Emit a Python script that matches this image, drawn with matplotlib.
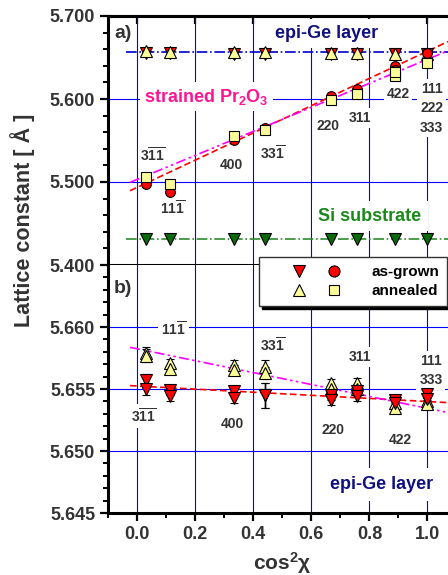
import numpy as np
import matplotlib
matplotlib.use("Agg")
import matplotlib.pyplot as plt
from matplotlib.lines import Line2D
from matplotlib.legend_handler import HandlerTuple
from matplotlib.ticker import MultipleLocator, FormatStrFormatter

plt.rcParams['font.family'] = ['Liberation Sans', 'DejaVu Sans']
plt.rcParams['font.weight'] = 'bold'
plt.rcParams['mathtext.fontset'] = 'custom'
plt.rcParams['mathtext.rm'] = 'Liberation Sans:bold'
plt.rcParams['mathtext.bf'] = 'Liberation Sans:bold'
plt.rcParams['mathtext.it'] = 'Liberation Sans:italic'
plt.rcParams['mathtext.default'] = 'rm'

# cos^2(chi) of the measured reflections: 3-1-1, 11-1, 400, 33-1, 220, 311, 422, 111
cos2chi = [1/33, 1/9, 1/3, 25/57, 2/3, 25/33, 8/9, 1.0]

# strained Pr2O3 lattice constants (panel a)
pr_asgrown = [5.497, 5.488, 5.551, 5.565, 5.604, 5.612, 5.640, 5.655]
pr_annealed = [5.506, 5.497, 5.555, 5.563, 5.599, 5.606, 5.632, 5.643]
pr_x_extra = [8/9]
pr_asgrown_extra = [5.635]
pr_annealed_extra = [5.628]

# Si substrate (panel a)
si_asgrown = [5.431, 5.431, 5.431, 5.431, 5.431, 5.431, 5.431, 5.431]

# epi-Ge layer, two measurements per reflection (panel b)
ge_asgrown_1 = [5.6557, 5.6549, 5.6548, 5.6545, 5.6545, 5.6548, 5.6541, 5.6546]
ge_asgrown_2 = [5.6550, 5.6544, 5.6543, 5.6545, 5.6541, 5.6544, 5.6539, 5.6542]
ge_annealed_1 = [5.6579, 5.6571, 5.6569, 5.6568, 5.6555, 5.6555, 5.6539, 5.6540]
ge_annealed_2 = [5.6577, 5.6566, 5.6565, 5.6563, 5.6550, 5.6550, 5.6535, 5.6538]
ge_err_asgrown = [0.0005, 0.0004, 0.0004, 0.0010, 0.0004, 0.0004, 0.0004, 0.0003]
ge_err_annealed = [0.0005, 0.0003, 0.0004, 0.0005, 0.0003, 0.0004, 0.0004, 0.0003]

# reference lines and linear fits (intercept, slope)
ge_ref = 5.6565
si_ref = 5.431
fit_pr_asgrown = (5.4936, 0.164)
fit_pr_annealed = (5.5032, 0.1446)
fit_ge_asgrown = (5.65524, -0.00125)
fit_ge_annealed = (5.65824, -0.0048)

x_ticks = [0.0, 0.2, 0.4, 0.6, 0.8, 1.0]
labels_a = [(r'$3\overline{11}$', 0.054, 5.5325), (r'$11\overline{1}$', 0.122, 5.468),
            ('400', 0.325, 5.520), (r'$33\overline{1}$', 0.466, 5.5346),
            ('220', 0.659, 5.567), ('311', 0.766, 5.577), ('422', 0.898, 5.606),
            ('111\n222\n333', 1.015, 5.589)]
labels_b = [(r'$11\overline{1}$', 0.124, 5.6598), (r'$33\overline{1}$', 0.466, 5.6585),
            ('311', 0.766, 5.6576), ('111\n333', 1.012, 5.6565),
            (r'$3\overline{11}$', 0.021, 5.6528), ('400', 0.326, 5.6522),
            ('220', 0.674, 5.6517), ('422', 0.908, 5.6509)]

RED = '#ff0000'
YEL = '#ffff99'
GRN = '#0b6b0b'
TXT = '#333333'
xlim = (-0.1, 1.071)
xfit = np.array([-0.025, 1.071])

fig = plt.figure(figsize=(4.48, 5.75), dpi=100)
ax1 = fig.add_axes([108.3/448, 1 - 265/575, 1 - 108.3/448, 249/575])
ax2 = fig.add_axes([108.3/448, 1 - 513/575, 1 - 108.3/448, 248/575])

for ax in (ax1, ax2):
    ax.set_xlim(*xlim)
    ax.set_xticks(x_ticks)
    ax.xaxis.set_minor_locator(MultipleLocator(0.1))
    ax.set_axisbelow(True)
    ax.grid(True, which='major', color='#0000ff', lw=0.8)
    ax.spines['right'].set_visible(False)
    for s in ('left', 'bottom', 'top'):
        ax.spines[s].set_linewidth(2.2)
    ax.tick_params(which='major', direction='out', length=6, width=1.6,
                   labelsize=13, labelcolor=TXT)
    ax.tick_params(which='minor', direction='out', length=3.5, width=1.4)
    ax.yaxis.set_major_formatter(FormatStrFormatter('%.3f'))

ax2.spines['top'].set_visible(False)
ax1.tick_params(axis='x', labelbottom=False)
sec = ax1.secondary_xaxis('top')
sec.set_xticks(x_ticks)
sec.tick_params(direction='in', length=6, width=1.6, labeltop=False)
sec.spines['top'].set_linewidth(2.2)

# panel a
ax1.set_ylim(5.400, 5.700)
ax1.yaxis.set_major_locator(MultipleLocator(0.1))
ax1.yaxis.set_minor_locator(MultipleLocator(0.02))

ax1.plot(xfit + [-0.015, 0], [ge_ref, ge_ref], color='#0000cc', ls='-.', lw=1.2, zorder=2)
ax1.plot(xfit + [-0.015, 0], [si_ref, si_ref], color='#2e8b2e', ls='-.', lw=1.2, zorder=2)
ax1.plot(xfit, fit_pr_asgrown[0] + fit_pr_asgrown[1] * xfit, color=RED, ls=(0, (4, 2)), lw=1.2, zorder=2)
ax1.plot(xfit, fit_pr_annealed[0] + fit_pr_annealed[1] * xfit, color='#ff00ff',
         ls=(0, (6, 2, 1.5, 2, 1.5, 2)), lw=1.2, zorder=2)

mk = dict(ls='none', mec='black', mew=0.8, zorder=3)
ax1.plot(cos2chi, si_asgrown, marker='v', ms=8, mfc=GRN, **mk)
ax1.plot(cos2chi, ge_asgrown_1, marker='v', ms=8, mfc=RED, **mk)
ax1.plot(cos2chi, ge_annealed_1, marker='^', ms=8, mfc=YEL, **mk)
ax1.plot(cos2chi, pr_asgrown, marker='o', ms=7, mfc=RED, **mk)
ax1.plot(pr_x_extra, pr_asgrown_extra, marker='o', ms=7, mfc=RED, **mk)
ax1.plot(pr_x_extra, pr_annealed_extra, marker='s', ms=6.5, mfc=YEL, **mk)
ax1.plot(cos2chi, pr_annealed, marker='s', ms=6.5, mfc=YEL, **mk)

box = dict(fc='white', ec='none', pad=2)
for s, x, y in labels_a:
    ax1.text(x, y, s, ha='center', va='center', fontsize=10, color=TXT,
             linespacing=1.5, bbox=box, zorder=1)
ax1.text(0.653, 5.679, 'epi-Ge layer', ha='center', va='center', fontsize=13,
         color='#101080', bbox=dict(fc='white', ec='none', pad=4), zorder=1)
ax1.text(0.239, 5.603, r'strained Pr$_2$O$_3$', ha='center', va='center', fontsize=13,
         color='#ff1493', bbox=dict(fc='white', ec='none', pad=3), zorder=1)
ax1.text(0.802, 5.459, 'Si substrate', ha='center', va='center', fontsize=13,
         color='#1a8a1a', bbox=dict(fc='white', ec='none', pad=5), zorder=1)
ax1.text(-0.048, 5.679, 'a)', ha='center', va='center', fontsize=14, color=TXT, zorder=1)

# panel b
ax2.set_ylim(5.645, 5.665)
ax2.set_yticks([5.645, 5.650, 5.655, 5.660])
ax2.yaxis.set_minor_locator(MultipleLocator(0.001))

ax2.plot(xfit, fit_ge_asgrown[0] + fit_ge_asgrown[1] * xfit, color=RED, ls=(0, (4, 2)), lw=1.2, zorder=2)
ax2.plot(xfit, fit_ge_annealed[0] + fit_ge_annealed[1] * xfit, color='#ff00ff',
         ls=(0, (6, 2, 1.5, 2, 1.5, 2)), lw=1.2, zorder=2)

eb = dict(ls='none', ecolor='black', elinewidth=1.0, capsize=3, capthick=1.0,
          mec='black', mew=0.8, zorder=3)
for ge in (ge_annealed_1, ge_annealed_2):
    ax2.errorbar(cos2chi, ge, yerr=ge_err_annealed, marker='^', ms=8, mfc=YEL, **eb)
for ge in (ge_asgrown_1, ge_asgrown_2):
    ax2.errorbar(cos2chi, ge, yerr=ge_err_asgrown, marker='v', ms=8, mfc=RED, **eb)

for s, x, y in labels_b:
    ax2.text(x, y, s, ha='center', va='center', fontsize=10, color=TXT,
             linespacing=1.5, bbox=box, zorder=1)
ax2.text(0.843, 5.6473, 'epi-Ge layer', ha='center', va='center', fontsize=13,
         color='#101080', bbox=dict(fc='white', ec='none', pad=6), zorder=1)
ax2.text(-0.049, 5.6631, 'b)', ha='center', va='center', fontsize=14, color=TXT, zorder=1)

# axis labels
fig.text(23/448, 1 - 220/575, 'Lattice constant [ Å ]', rotation=90, ha='center',
         va='center', fontsize=15.5, color=TXT)
fig.text(282/448, 1 - 570/575, r'cos$^{2}\chi$', ha='center', va='baseline',
         fontsize=15, color=TXT)

# legend
h_ag = (Line2D([], [], ls='none', marker='v', ms=9, mfc=RED, mec='black', mew=0.8),
        Line2D([], [], ls='none', marker='o', ms=8, mfc=RED, mec='black', mew=0.8))
h_an = (Line2D([], [], ls='none', marker='^', ms=9, mfc=YEL, mec='black', mew=0.8),
        Line2D([], [], ls='none', marker='s', ms=7, mfc=YEL, mec='black', mew=0.8))
fig.legend([h_ag, h_an], ['as-grown', 'annealed'],
           handler_map={tuple: HandlerTuple(ndivide=None, pad=-1.81)},
           loc='upper left', bbox_to_anchor=(259/448, 1 - 257/575), borderaxespad=0,
           fancybox=False, shadow={'color': 'black', 'alpha': 1}, edgecolor='#333333',
           framealpha=1, handlelength=6.39, handletextpad=0.4,
           borderpad=0.55, labelspacing=0.3, prop={'weight': 'bold', 'size': 11})

fig.savefig('out.png', dpi=100)
